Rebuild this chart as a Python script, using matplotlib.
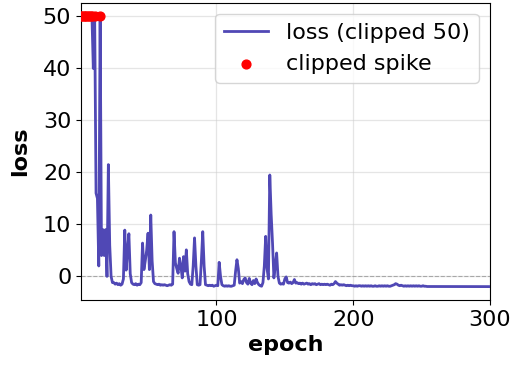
import numpy as np
import matplotlib
matplotlib.use("Agg")
import matplotlib.pyplot as plt

CLIP = 50

# loss values per epoch (clipped at 50)
loss_e001_024 = [50, 50, 50, 50, 50, 50, 50, 50, 50, 40, 50, 16, 15, 2, 50, 4, 9, 4, 9, 0,
                 21.5, 6, 0, -1.2]
loss_e025_054 = [-1.2, -1.5, -1.3, -1.6, -1.4, -1.7, -1.5, -0.5, 8.9, 1.2, 5, 8.2, 0.5, -1.2,
                 -1.5, -1.6, -1.4, -1.7, -1.5, -1.6, -1.2, 6.4, 1.3, 3, 5, 8.3, 1.3, 11.8, 3, -1]
loss_e055_092 = [-1.4, -1.5, -1.6, -1.5, -1.7, -1.6, -1.7, -1.6, -1.7, -1.8, -1.7, -1.6, -1.7,
                 -1.5, 8.6, 2.6, 1.5, 0.6, 3.5, 2, -0.3, 3.8, 1, 5.1, 0.5, -1, -1.5, -1.6, 2,
                 7.4, 2, -1.6, -1.7, -1.6, 3, 8.6, 2, -1.6]
loss_e093_152 = [-1.7, -1.8, -1.7, -1.8, -1.7, -1.9, -1.8, -1.7, -1.8, 2.7, 0, -1.6,
                 -1.8, -1.9, -1.8, -1.9, -1.8, -1.9, -1.9, -1.8, -1.7, 1, 3.2, 1.5, -1.3,
                 -1.0, -1.4, -0.6, -0.3, -1.2, -1.5, -0.4, -1.3, -1.6, -0.8, -1.4, -0.5, -1.2,
                 -1.6, -1.8, -1.9, -1.2, 2, 7.7, 1.5, -0.5, 19.5, 12, 6.4, -0.3, 2, 4.5, 0,
                 -1.3, -1.5, -1.4, -1.5, -0.5, -0.1, -1.2]
loss_e153_253 = [-1.3, -1.1, -1.4, -1.2, -0.6, -1.3, -1.2, -1.4,
                 -1.3, -1.5, -1.3, -1.5, -1.4, -1.3, -1.5, -1.4, -1.6, -1.4,
                 -1.5, -1.4, -1.6, -1.5, -1.4, -1.6, -1.5, -1.6, -1.5, -1.6,
                 -1.5, -1.6, -1.7, -1.5, -1.6, -1.4, -1.0, -1.3, -1.5, -1.7,
                 -1.6, -1.7, -1.6, -1.7, -1.8, -1.7, -1.8, -1.7, -1.8, -1.8,
                 -1.9, -1.8, -1.9, -1.8, -1.8, -1.9, -1.8, -1.9, -1.8, -1.9,
                 -1.8, -1.9, -1.8, -1.9, -1.9, -1.8, -1.9, -1.9, -1.8, -1.9,
                 -1.8, -1.9, -1.8, -1.9, -1.8, -1.9, -1.9, -1.8, -1.7, -1.6,
                 -1.4, -1.5, -1.7, -1.8, -1.7, -1.8, -1.9, -1.8, -1.9, -1.8,
                 -1.9, -1.8, -1.9, -1.8, -1.9, -1.8, -1.9, -1.8, -1.9, -1.9,
                 -1.8, -1.9, -1.9]
loss_e254_300 = [-1.95, -1.95, -1.95, -1.95, -1.95, -1.95, -1.95, -1.95, -1.95, -1.95,
                 -1.95, -1.95, -1.95, -1.95, -1.95, -1.95, -1.95, -1.96, -1.96, -1.96,
                 -1.96, -1.96, -1.96, -1.96, -1.96, -1.96, -1.96, -1.96, -1.96, -1.96,
                 -1.97, -1.97, -1.97, -1.97, -1.97, -1.97, -1.97, -1.97, -1.97, -1.97,
                 -1.97, -1.97, -1.97, -1.97, -1.97, -1.97, -1.97]

loss = np.array(loss_e001_024 + loss_e025_054 + loss_e055_092 + loss_e093_152
                + loss_e153_253 + loss_e254_300, dtype=float)
epochs = np.arange(1, len(loss) + 1)
clipped = loss >= CLIP

fig = plt.figure(figsize=(5.11, 3.66), dpi=100)
ax = fig.add_axes([0.1585, 0.180, 0.8005, 0.812])

ax.plot(epochs, loss, color="#5048b5", lw=2.0, label="loss (clipped 50)", zorder=3)
ax.scatter(epochs[clipped], loss[clipped], color="red", s=40, zorder=4,
           label="clipped spike")
ax.axhline(0, color="gray", ls="--", lw=0.8, alpha=0.6, zorder=2)

ax.set_xlim(1, 300)
ax.set_xticks([100, 200, 300])
ax.set_yticks([0, 10, 20, 30, 40, 50])
ax.grid(True, color="#cccccc", alpha=0.5, lw=0.9)
ax.set_axisbelow(True)

ax.tick_params(labelsize=16)
ax.set_xlabel("epoch", fontsize=16, fontweight="bold")
ax.set_ylabel("loss", fontsize=16, fontweight="bold", labelpad=9)

ax.legend(loc="upper right", fontsize=16)

fig.savefig("out.png", dpi=100)
